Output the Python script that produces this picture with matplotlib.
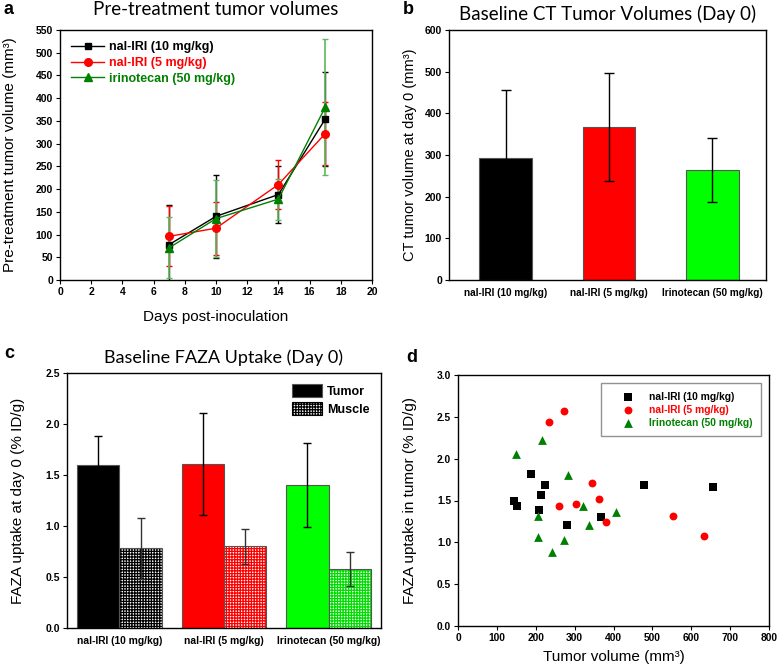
import matplotlib
matplotlib.use("Agg")
import matplotlib.pyplot as plt
from matplotlib.patches import Patch
from matplotlib.lines import Line2D
import numpy as np

plt.rcParams['font.family'] = ['Liberation Sans', 'DejaVu Sans']
plt.rcParams['hatch.linewidth'] = 0.9

# ---------------- data ----------------
# Panel a
days = [7, 10, 14, 17]
a_nal10 = [78, 140, 188, 354]
a_nal10_err = [86, 91, 62, 104]
a_nal5 = [96, 114, 210, 322]
a_nal5_err = [66, 58, 53, 69]
a_iri = [71, 135, 178, 380]
a_iri_err = [67, 85, 45, 150]

groups = ["nal-IRI (10 mg/kg)", "nal-IRI (5 mg/kg)", "Irinotecan (50 mg/kg)"]
group_colors = ["#000000", "#ff0000", "#00ff00"]

# Panel b
b_vol = [292, 367, 264]
b_err = [164, 130, 77]

# Panel c
c_tumor = [1.60, 1.61, 1.40]
c_tumor_err = [0.28, 0.50, 0.41]
c_muscle = [0.78, 0.80, 0.58]
c_muscle_err = [0.30, 0.17, 0.17]

# Panel d
d_nal10_x = [143, 152, 187, 213, 223, 209, 281, 367, 478, 655]
d_nal10_y = [1.49, 1.43, 1.82, 1.57, 1.68, 1.39, 1.21, 1.30, 1.69, 1.66]
d_nal5_x = [235, 272, 259, 303, 345, 363, 380, 552, 632]
d_nal5_y = [2.44, 2.57, 1.44, 1.46, 1.71, 1.52, 1.24, 1.31, 1.08]
d_iri_x = [149, 216, 284, 322, 207, 338, 406, 206, 272, 243]
d_iri_y = [2.06, 2.22, 1.80, 1.44, 1.32, 1.21, 1.36, 1.06, 1.03, 0.88]

W, H = 778, 669
fig = plt.figure(figsize=(W / 100, H / 100), dpi=100)


def add_ax(l, r, t, b):
    return fig.add_axes([l / W, (H - b) / H, (r - l) / W, (b - t) / H])


def style(ax, size=7.5):
    ax.tick_params(direction='out', length=3, width=0.8, labelsize=size,
                   top=False, right=False, pad=2)
    for lab in ax.get_xticklabels() + ax.get_yticklabels():
        lab.set_fontweight('bold')
    for s in ax.spines.values():
        s.set_linewidth(1.0)


def ylabel_at(ax, text, xpix_right, size=11):
    ax.set_ylabel(text, fontsize=size)
    bb = ax.get_position()
    l = bb.x0 * W
    w = bb.width * W
    ax.yaxis.set_label_coords((xpix_right - l) / w, 0.5)


def xlabel_at(ax, text, ypix_top, size=11):
    ax.set_xlabel(text, fontsize=size)
    bb = ax.get_position()
    top = H - bb.y1 * H
    h = bb.height * H
    ax.xaxis.set_label_coords(0.5, 1 - (ypix_top - top) / h)


title_font = ['Lato', 'DejaVu Sans']

# ---------------- Panel a ----------------
axa = add_ax(60, 372, 30, 280)
axa.errorbar(days, a_nal10, yerr=a_nal10_err, color='black', marker='s', ms=5,
             lw=1, capsize=2.5, elinewidth=1)
axa.errorbar(days, a_nal5, yerr=a_nal5_err, color='#ff0000', marker='o', ms=5.5,
             lw=1, capsize=2.5, elinewidth=1)
axa.errorbar(days, a_iri, yerr=a_iri_err, color='#008000', marker='^', ms=6,
             lw=1, capsize=2.5, elinewidth=1.2, ecolor='#5fb85f')
axa.set_xlim(0, 20)
axa.set_ylim(0, 550)
axa.set_xticks(np.arange(0, 21, 2))
axa.set_yticks(np.arange(0, 551, 50))
style(axa)
ylabel_at(axa, "Pre-treatment tumor volume (mm³)", 17)
xlabel_at(axa, "Days post-inoculation", 310)
axa.set_title("Pre-treatment tumor volumes", fontsize=13.5, family=title_font, pad=10.5)
ha = [Line2D([], [], color='black', marker='s', ms=5, lw=1),
      Line2D([], [], color='#ff0000', marker='o', ms=5.5, lw=1),
      Line2D([], [], color='#008000', marker='^', ms=6, lw=1)]
leg = axa.legend(ha, ['nal-IRI (10 mg/kg)', 'nal-IRI (5 mg/kg)', 'irinotecan (50 mg/kg)'],
                 loc='upper left', frameon=False, handlelength=2.6,
                 borderaxespad=0.5, labelspacing=0.3, handletextpad=0.4,
                 prop={'weight': 'bold', 'size': 9})
for t, c in zip(leg.get_texts(), ['black', '#ff0000', '#008000']):
    t.set_color(c)

# ---------------- Panel b ----------------
axb = add_ax(449, 766, 30, 280)
xb = np.arange(len(groups))
axb.bar(xb, b_vol, width=0.51, color=group_colors, edgecolor='#555555', lw=0.8)
axb.errorbar(xb, b_vol, yerr=b_err, fmt='none', ecolor='black', elinewidth=1,
             capsize=3.5, capthick=1)
axb.set_xlim(-0.55, 2.52)
axb.set_ylim(0, 600)
axb.set_yticks(np.arange(0, 601, 100))
axb.set_xticks(xb)
axb.set_xticklabels(groups)
style(axb)
axb.tick_params(axis='x', length=0, pad=6, labelsize=7.2)
ylabel_at(axb, "CT tumor volume at day 0 (mm³)", 417, size=10.5)
axb.set_title("Baseline CT Tumor Volumes (Day 0)", fontsize=13.5, family=title_font, pad=7)

# ---------------- Panel c ----------------
axc = add_ax(67, 381, 373, 628)
xc = np.arange(len(groups))
bw = 0.405
axc.bar(xc - bw / 2, c_tumor, width=bw, color=group_colors, edgecolor='#555555', lw=0.8)
for i in range(3):
    axc.bar(xc[i] + bw / 2, c_muscle[i], width=bw, color='white',
            edgecolor=group_colors[i] if i != 2 else '#00dd00', hatch='++++++', lw=0)
axc.bar(xc + bw / 2, c_muscle, width=bw, fill=False, edgecolor='#555555', lw=0.8)
axc.errorbar(xc - bw / 2, c_tumor, yerr=c_tumor_err, fmt='none', ecolor='black',
             elinewidth=1, capsize=3, capthick=1)
axc.errorbar(xc + bw / 2, c_muscle, yerr=c_muscle_err, fmt='none', ecolor='#333333',
             elinewidth=1, capsize=3, capthick=1)
axc.set_xlim(-0.5, 2.5)
axc.set_ylim(0, 2.5)
yt = np.arange(0, 2.51, 0.5)
axc.set_yticks(yt)
axc.set_yticklabels([f"{v:.1f}" for v in yt])
axc.set_xticks(xc)
axc.set_xticklabels(groups)
style(axc)
axc.tick_params(axis='x', length=0, pad=6, labelsize=7.4)
ylabel_at(axc, "FAZA uptake at day 0 (% ID/g)", 25)
axc.set_title("Baseline FAZA Uptake (Day 0)", fontsize=13, family=title_font, pad=7)
handles = [Patch(facecolor='black', edgecolor='#555555', lw=0.8),
           Patch(facecolor='white', edgecolor='black', hatch='++++++', lw=0.8)]
lc = axc.legend(handles, ["Tumor", "Muscle"], loc='upper right', frameon=False,
                handlelength=2.4, handleheight=1.2, labelspacing=0.35,
                handletextpad=0.4, borderaxespad=0.5,
                prop={'weight': 'bold', 'size': 9})

# ---------------- Panel d ----------------
axd = add_ax(458, 769, 375, 626)
axd.scatter(d_nal10_x, d_nal10_y, marker='s', s=26, color='black', lw=0,
            label='nal-IRI (10 mg/kg)', zorder=3)
axd.scatter(d_nal5_x, d_nal5_y, marker='o', s=32, color='#ff0000', lw=0,
            label='nal-IRI (5 mg/kg)', zorder=3)
axd.scatter(d_iri_x, d_iri_y, marker='^', s=40, color='#008000', lw=0,
            label='Irinotecan (50 mg/kg)', zorder=3)
axd.set_xlim(0, 800)
axd.set_ylim(0, 3.0)
axd.set_xticks(np.arange(0, 801, 100))
yd = np.arange(0, 3.01, 0.5)
axd.set_yticks(yd)
axd.set_yticklabels([f"{v:.1f}" for v in yd])
style(axd, size=7.4)
ylabel_at(axd, "FAZA uptake in tumor (% ID/g)", 417)
xlabel_at(axd, "Tumor volume (mm³)", 650)
ld = axd.legend(loc='upper right', frameon=True, fancybox=False, edgecolor='#777777',
                borderaxespad=0.8, labelspacing=0.28, handlelength=3.6,
                handletextpad=0.2, borderpad=0.85,
                prop={'weight': 'bold', 'size': 7.4})
ld.get_frame().set_linewidth(1.0)
for t, c in zip(ld.get_texts(), ['black', '#ff0000', '#008000']):
    t.set_color(c)

# panel letters
for txt, x, y in [("a", 3, 14), ("b", 403, 14), ("c", 4, 358), ("d", 406, 362)]:
    fig.text(x / W, 1 - y / H, txt, fontsize=13, fontweight='bold', va='baseline')

fig.savefig("out.png", dpi=100)
